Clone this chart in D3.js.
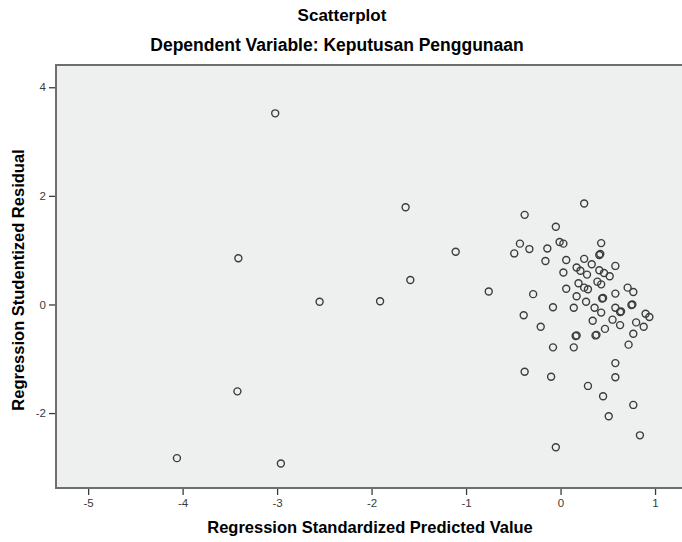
<!DOCTYPE html>
<html lang="en">
  <head>
    <meta charset="UTF-8">
    <title>Scatterplot</title>
    <script src="https://d3js.org/d3.v7.min.js"></script>
    <style>
      body { margin: 0; background: #fff; }
      text { font-family: "Liberation Sans", Arial, sans-serif; }
    </style>
  </head>
  <body>
    <svg id="chart" width="682" height="542"></svg>
  <script>
    // predicted values (x) and studentized residuals (y)
    var predicted = [
      -3.02, -1.64, -3.41, -1.11, -1.59, -2.55, -1.91, -3.42, -4.06, -2.96,
      0.25, -0.38, -0.05, -0.43, -0.49, -0.33, -0.14, -0.01, 0.03, 0.43,
      0.41, 0.42, -0.16, 0.06, 0.25, 0.33, 0.58, 0.03, 0.17, 0.21,
      0.28, 0.41, 0.46, 0.52, -0.76, -0.29, 0.06, 0.19, 0.25, 0.29,
      0.39, 0.43, 0.71, 0.77, 0.17, 0.44, 0.45, 0.58, 0.27, -0.08,
      0.14, 0.36, 0.43, 0.58, 0.63, 0.64, 0.75, 0.76, 0.90, 0.94,
      -0.39, -0.21, 0.34, 0.55, 0.63, 0.80, 0.88, 0.47, 0.16, 0.17,
      0.37, 0.38, 0.77, 0.72, -0.08, 0.14,
      -0.38, -0.10, 0.58, 0.58, 0.29, 0.45, 0.77, 0.51, 0.84, -0.05
    ];
    var residual = [
      3.52, 1.79, 0.85, 0.97, 0.45, 0.05, 0.06, -1.60, -2.83, -2.93,
      1.86, 1.65, 1.43, 1.12, 0.94, 1.02, 1.03, 1.15, 1.12, 1.13,
      0.91, 0.93, 0.80, 0.82, 0.84, 0.74, 0.71, 0.59, 0.68, 0.62,
      0.55, 0.63, 0.58, 0.52, 0.24, 0.19, 0.29, 0.39, 0.31, 0.28,
      0.42, 0.37, 0.31, 0.23, 0.15, 0.11, 0.12, 0.20, 0.05, -0.05,
      -0.06, -0.06, -0.15, -0.06, -0.14, -0.13, -0.01, 0.00, -0.17, -0.23,
      -0.20, -0.41, -0.30, -0.28, -0.38, -0.33, -0.41, -0.45, -0.58, -0.57,
      -0.57, -0.56, -0.54, -0.74, -0.79, -0.79,
      -1.24, -1.33, -1.08, -1.34, -1.50, -1.69, -1.85, -2.06, -2.41, -2.63
    ];
    var xTicks = [-5, -4, -3, -2, -1, 0, 1];
    var yTicks = [-2, 0, 2, 4];

    var points = predicted.map(function(d, i) { return { x: d, y: residual[i] }; });

    var svg = d3.select("#chart");

    // plot frame (right side runs past the edge of the picture)
    var plotLeft = 56, plotTop = 65, plotRight = 690, plotBottom = 488;

    var x = d3.scaleLinear().domain([-5.34, 1.37]).range([plotLeft, plotRight]);
    var y = d3.scaleLinear().domain([-3.38, 4.41]).range([plotBottom, plotTop]);

    svg.append("rect")
      .attr("x", plotLeft).attr("y", plotTop)
      .attr("width", plotRight - plotLeft).attr("height", plotBottom - plotTop)
      .attr("fill", "#eeefef")
      .attr("stroke", "#6e6e6e")
      .attr("stroke-width", 2);

    // x axis
    var gx = svg.append("g")
      .attr("transform", "translate(0," + (plotBottom + 1) + ")")
      .call(d3.axisBottom(x).tickValues(xTicks).tickFormat(function(d) { return String(d); })
        .tickSize(6).tickSizeOuter(0).tickPadding(4));
    gx.select(".domain").remove();
    gx.selectAll("line").attr("stroke", "#3a3a3a").attr("stroke-width", 1.3);
    gx.selectAll("text").attr("font-size", "11.5px").attr("fill", "#3a3a3a")
      .style("font-family", "'Liberation Sans', Arial, sans-serif");

    // y axis
    var gy = svg.append("g")
      .attr("transform", "translate(" + (plotLeft - 1) + ",0)")
      .call(d3.axisLeft(y).tickValues(yTicks).tickFormat(function(d) { return String(d); })
        .tickSize(6).tickSizeOuter(0).tickPadding(3));
    gy.select(".domain").remove();
    gy.selectAll("line").attr("stroke", "#3a3a3a").attr("stroke-width", 1.3);
    gy.selectAll("text").attr("font-size", "11.5px").attr("fill", "#3a3a3a")
      .style("font-family", "'Liberation Sans', Arial, sans-serif");

    // points
    svg.append("g").selectAll("circle")
      .data(points)
      .enter()
      .append("circle")
      .attr("cx", function(d) { return x(d.x); })
      .attr("cy", function(d) { return y(d.y); })
      .attr("r", 3.5)
      .attr("fill", "none")
      .attr("stroke", "#3c3c3c")
      .attr("stroke-width", 1.4);

    // titles
    svg.append("text")
      .attr("x", 342).attr("y", 21)
      .attr("text-anchor", "middle")
      .attr("font-size", "17px").attr("font-weight", "bold")
      .text("Scatterplot");

    svg.append("text")
      .attr("x", 337).attr("y", 51)
      .attr("text-anchor", "middle")
      .attr("font-size", "17.5px").attr("font-weight", "bold")
      .text("Dependent Variable: Keputusan Penggunaan");

    svg.append("text")
      .attr("x", 370).attr("y", 533)
      .attr("text-anchor", "middle")
      .attr("font-size", "16.5px").attr("font-weight", "bold")
      .text("Regression Standardized Predicted Value");

    svg.append("text")
      .attr("transform", "translate(24,280) rotate(-90)")
      .attr("text-anchor", "middle")
      .attr("font-size", "16.5px").attr("font-weight", "bold")
      .text("Regression Studentized Residual");
  </script>
  </body>
</html>
